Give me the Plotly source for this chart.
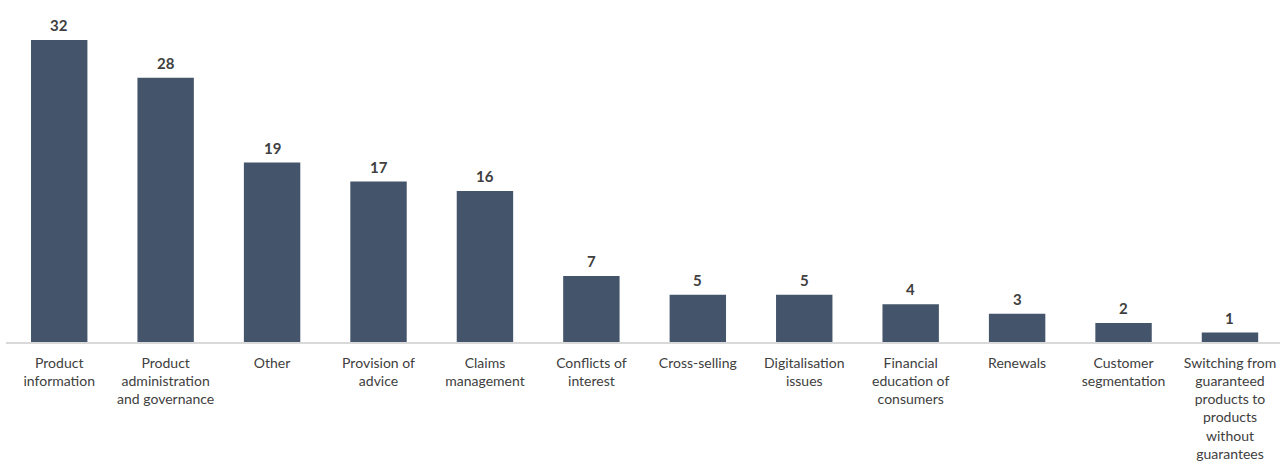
import plotly.graph_objects as go

# Categories (line breaks as shown under each bar)
categories = [
    "Product<br>information",
    "Product<br>administration<br>and governance",
    "Other",
    "Provision of<br>advice",
    "Claims<br>management",
    "Conflicts of<br>interest",
    "Cross-selling",
    "Digitalisation<br>issues",
    "Financial<br>education of<br>consumers",
    "Renewals",
    "Customer<br>segmentation",
    "Switching from<br>guaranteed<br>products to<br>products<br>without<br>guarantees",
]
counts = [32, 28, 19, 17, 16, 7, 5, 5, 4, 3, 2, 1]

BAR_COLOR = "#44546A"
TEXT_COLOR = "#404040"
FONT = "Lato, 'Open Sans', sans-serif"

fig = go.Figure(
    go.Bar(
        x=categories,
        y=counts,
        marker=dict(color=BAR_COLOR, line=dict(width=0)),
        width=0.53,
        hoverinfo="x+y",
    )
)

# Value labels above each bar
for cat, val in zip(categories, counts):
    fig.add_annotation(
        x=cat,
        y=val,
        text=f"<b>{val}</b>",
        showarrow=False,
        yanchor="bottom",
        yshift=4,
        font=dict(family=FONT, size=15, color=TEXT_COLOR),
    )

fig.update_layout(
    width=1280,
    height=461,
    margin=dict(l=6, r=0, t=21, b=119),
    paper_bgcolor="white",
    plot_bgcolor="white",
    showlegend=False,
    font=dict(family=FONT, size=14, color=TEXT_COLOR),
)

fig.update_xaxes(
    type="category",
    range=[-0.5, 11.47],
    showline=True,
    linecolor="#D9D9D9",
    linewidth=2,
    showgrid=False,
    ticks="",
    ticklabelstandoff=7,
    tickfont=dict(family=FONT, size=14, color=TEXT_COLOR),
    fixedrange=True,
)

fig.update_yaxes(
    range=[0, 34],
    visible=False,
    showgrid=False,
    zeroline=False,
    fixedrange=True,
)

fig.write_html("out.html", config={"displayModeBar": False})
